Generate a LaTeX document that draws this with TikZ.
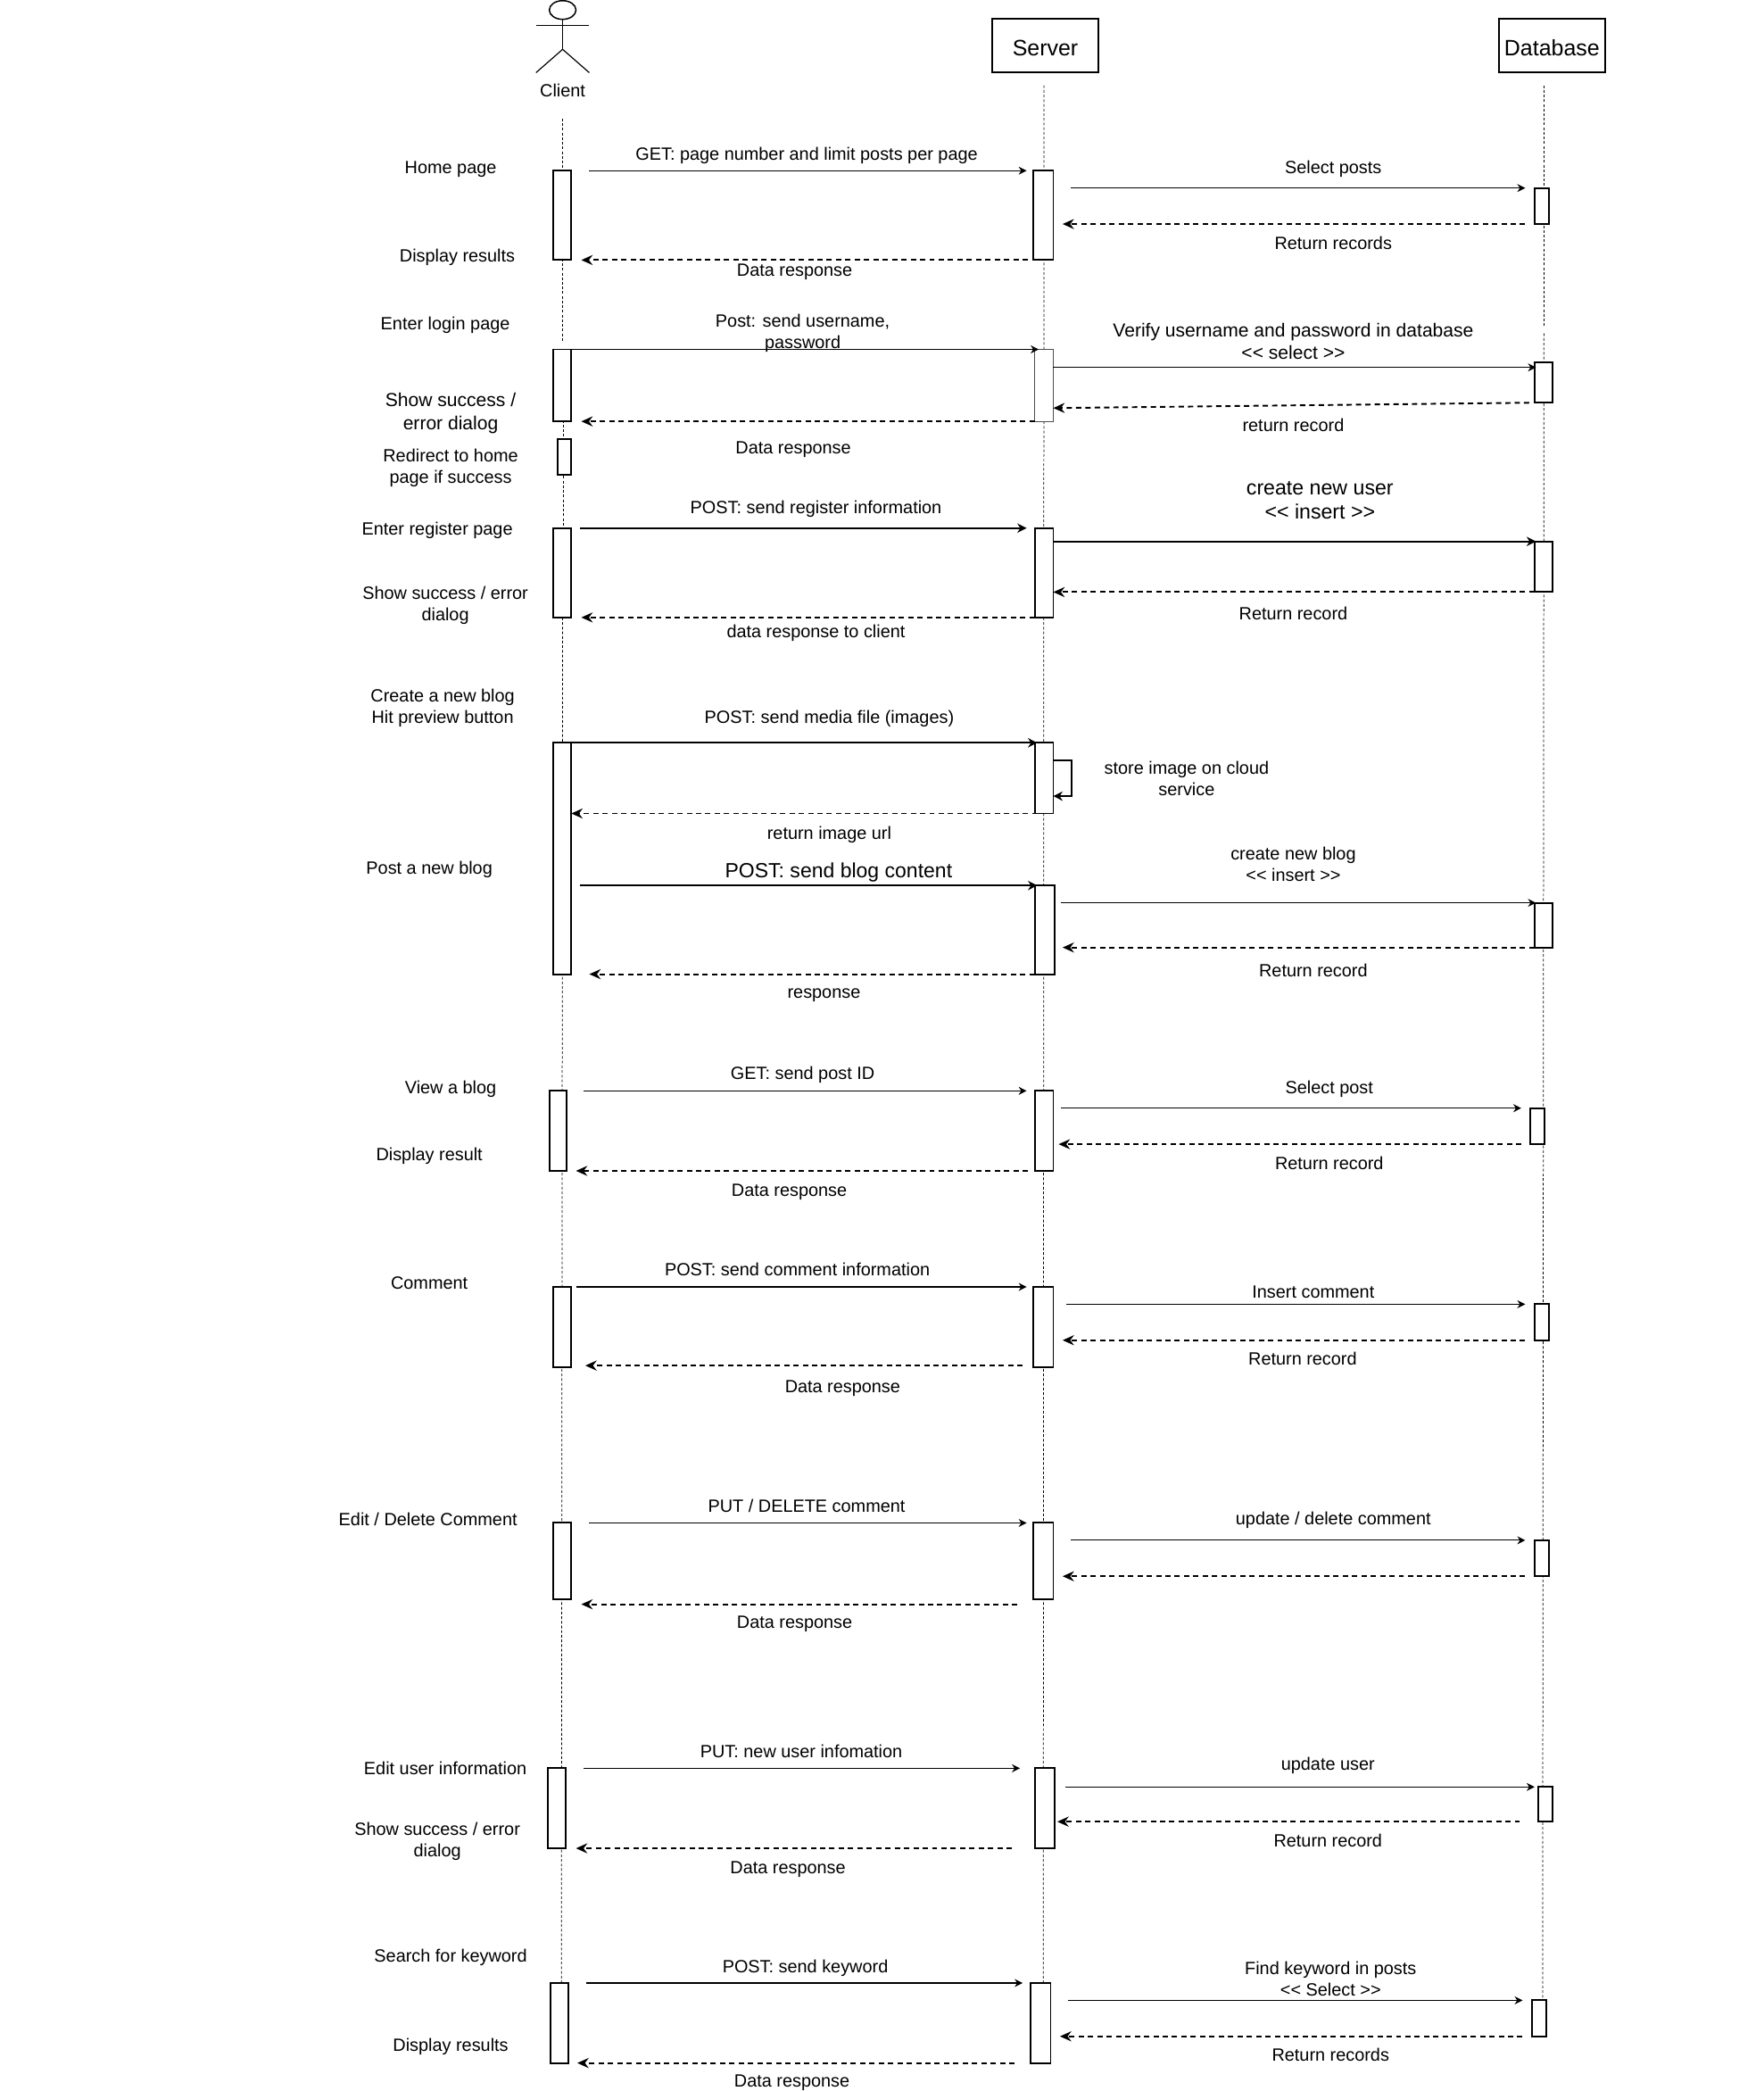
\documentclass[tikz,border=0pt]{standalone}
\usepackage{fontspec}
\setmainfont{Liberation Sans}
\usetikzlibrary{arrows.meta,shapes.geometric}
\begin{document}
\begin{tikzpicture}[x=1pt, y=-1pt,
                      every node/.style = {font=\fontsize{13.3}{16}\selectfont, align=center, inner sep=0pt, outer sep=0pt},
                      actbox/.style = {shape=rectangle, draw, line width=1.3pt, fill=white},
                      header/.style = {shape=rectangle, draw, line width=1.3pt, fill=white, minimum width=80pt, minimum height=40pt, text height=15pt, text depth=0pt, font=\fontsize{16.7}{20}\selectfont},
                      life/.style = {line width=0.5pt, dash pattern=on 2pt off 1.5pt},
                      msg/.style = {line width=0.8pt, -{Stealth[length=6pt,width=6pt]}},
                      msgbold/.style = {line width=1.3pt, -{Stealth[length=7pt,width=7pt]}},
                      ret/.style = {line width=1.3pt, dash pattern=on 4pt off 3pt, -{Stealth[length=8.5pt,width=7.5pt]}}]
\useasboundingbox (0,0) rectangle (1322.4,1568);
% lifelines
\coordinate (clienttop) at (422,89);
\coordinate (clienta) at (422,256);
\coordinate (clientb) at (422.5,315);
\coordinate (clientc) at (422.5,396);
\coordinate (clientd) at (422,463);
\coordinate (clientend) at (421,1547);
\coordinate (servertop) at (783,64);
\coordinate (serverend) at (782.5,1487);
\coordinate (dbtop) at (1158,64);
\coordinate (dba) at (1158,245);
\coordinate (dbb) at (1158,250);
\coordinate (dbend) at (1157,1500);
\draw[life] (clienttop) -- (clienta);
\draw[life] (clientb) -- (clientc);
\draw[life] (clientd) -- (clientend);
\draw[life] (servertop) -- (serverend);
\draw[life] (dbtop) -- (dba);
\draw[life] (dbb) -- (dbend);
% actor and headers
\node[draw, line width=1pt, shape=ellipse, minimum width=20pt, minimum height=14pt] (clienthead) at (422,7.5) {};
\coordinate (clientarml) at (402,19);
\coordinate (clientarmr) at (442,19);
\coordinate (clienthip) at (422,37);
\coordinate (clientfootl) at (402,54.5);
\coordinate (clientfootr) at (442,54.5);
\draw[line width=1.1pt] (clientarml) -- (clientarmr);
\draw[line width=0.8pt] (clienthead) -- (clienthip);
\draw[line width=0.8pt] (clientfootl) -- (clienthip) -- (clientfootr);
\node (clientname) at (422,68) {Client};
\node[header] (server) at (784,34) {Server};
\node[header] (database) at (1164,34) {Database};
% activation boxes
\foreach \name/\xa/\ya/\xb/\yb in {
    c1/415/128/428.5/195, c2/415/262/428.5/316, c3/418/329/428.5/356, c4/415/396/428.5/463,
    c5/415/557/428.5/730.5, c6/412/818/425/878, c7/415/965/428.5/1025, c8/415/1142/428.5/1199,
    c9/411/1326/424.5/1386, c10/413/1487/426.5/1547,
    s1/775/128/790/195, s3/776/396/790/463, s4/776/557/790/610, s5/776/664/791/730.5,
    s6/776/818/790/878, s7/775/965/790/1025, s8/775/1142/790/1199, s9/776/1326/791/1386,
    s10/773/1487/788/1547,
    d1/1151/141/1162/168, d2/1151/272/1164.5/302, d3/1151/406/1164.5/444, d4/1151/677/1164.5/710.5,
    d5/1148/831/1158.5/858, d6/1151/978/1162/1005, d7/1151/1155/1162/1182, d8/1154/1340/1164.5/1366,
    d9/1149/1500/1160/1527}
  \node[actbox, minimum width=\xb pt-\xa pt, minimum height=\yb pt-\ya pt] (\name) at ({(\xa+\xb)/2},{(\ya+\yb)/2}) {};
\node[actbox, line width=0.6pt, draw=black!70, minimum width=14pt, minimum height=54pt] (s2) at (783,289) {};
% home page
\draw[msg] ([xshift=13.5pt]c1.north east) -- ([xshift=-5pt]s1.north west);
\draw[msg] ([xshift=13pt,yshift=-13pt]s1.north east) -- ([xshift=-7pt]d1.north west);
\draw[ret] ([xshift=-7pt]d1.south west) -- ([xshift=7pt,yshift=27pt]s1.south east);
\draw[ret] ([xshift=-4pt]s1.south west) -- ([xshift=7.5pt]c1.south east);
% login
\draw[msg] (c2.north east) -- ([xshift=3pt]s2.north west);
\draw[msg] ([yshift=-13.5pt]s2.north east) -- ([xshift=1pt,yshift=-3.5pt]d2.north west);
\draw[ret] ([xshift=-4pt]d2.south west) -- ([yshift=10pt]s2.south east);
\draw[ret] (s2.south west) -- ([xshift=7.5pt]c2.south east);
% register
\draw[msgbold] ([xshift=6.5pt]c4.north east) -- ([xshift=-6pt]s3.north west);
\draw[msgbold] ([yshift=-10pt]s3.north east) -- ([xshift=1pt]d3.north west);
\draw[ret] (d3.south west) -- ([yshift=19pt]s3.south east);
\draw[ret] (s3.south west) -- ([xshift=7.5pt]c4.south east);
% new blog
\draw[msgbold] (c5.north east) -- ([xshift=2pt]s4.north west);
\draw[msgbold] ([yshift=-13pt]s4.north east) -- ++(13.5,0) -- ++(0,27) -- ([yshift=-40pt]s4.north east);
\draw[ret] ([xshift=2pt]s4.south west) -- ([yshift=-53pt]c5.north east);
\draw[msgbold] ([xshift=6.5pt,yshift=-107pt]c5.north east) -- ([xshift=2pt]s5.north west);
\draw[msg] ([xshift=5pt,yshift=-13pt]s5.north east) -- ([xshift=1pt]d4.north west);
\draw[ret] (d4.south west) -- ([xshift=6pt,yshift=20pt]s5.south east);
\draw[ret] (s5.south west) -- ([xshift=13.5pt]c5.south east);
% view
\draw[msg] ([xshift=13pt]c6.north east) -- ([xshift=-6pt]s6.north west);
\draw[msg] ([xshift=6pt,yshift=-13pt]s6.north east) -- ([xshift=-7pt]d5.north west);
\draw[ret] ([xshift=-7pt]d5.south west) -- ([xshift=4pt,yshift=20pt]s6.south east);
\draw[ret] ([xshift=-5pt]s6.south west) -- ([xshift=7pt]c6.south east);
% comment
\draw[msg] ([xshift=3.5pt]c7.north east) -- ([xshift=-5pt]s7.north west);
\draw[msg] ([xshift=10pt,yshift=-13pt]s7.north east) -- ([xshift=-7pt]d6.north west);
\draw[ret] ([xshift=-7pt]d6.south west) -- ([xshift=7pt,yshift=20pt]s7.south east);
\draw[ret] ([xshift=-8pt,yshift=1pt]s7.south west) -- ([xshift=10.5pt,yshift=1pt]c7.south east);
% edit comment
\draw[msg] ([xshift=13.5pt]c8.north east) -- ([xshift=-5pt]s8.north west);
\draw[msg] ([xshift=13pt,yshift=-13pt]s8.north east) -- ([xshift=-7pt]d7.north west);
\draw[ret] ([xshift=-7pt]d7.south west) -- ([xshift=7pt,yshift=17pt]s8.south east);
\draw[ret] ([xshift=-12pt,yshift=-4pt]s8.south west) -- ([xshift=7.5pt,yshift=-4pt]c8.south east);
% edit user
\draw[msg] ([xshift=13.5pt]c9.north east) -- ([xshift=-11pt]s9.north west);
\draw[msg] ([xshift=8pt,yshift=-14pt]s9.north east) -- ([xshift=-3pt]d8.north west);
\draw[ret] ([xshift=-14pt]d8.south west) -- ([xshift=2pt,yshift=20pt]s9.south east);
\draw[ret] ([xshift=-17pt]s9.south west) -- ([xshift=7.5pt]c9.south east);
% search
\draw[msg] ([xshift=13.5pt]c10.north east) -- ([xshift=-6pt]s10.north west);
\draw[msg] ([xshift=13pt,yshift=-13pt]s10.north east) -- ([xshift=-7pt]d9.north west);
\draw[ret] ([xshift=-7pt]d9.south west) -- ([xshift=7pt,yshift=20pt]s10.south east);
\draw[ret] ([xshift=-12pt]s10.south west) -- ([xshift=6.5pt]c10.south east);
% labels on the left
\node (homepage) at (338,127) {Home page};
\node (displayresults) at (343,193) {Display results};
\node (loginpage) at (334,244) {Enter login page};
\node[font=\fontsize{14.1}{17}\selectfont] (showsuccess) at (338,310) {Show success /\\error dialog};
\node (redirect) at (338,351) {Redirect to home\\page if success};
\node (registerpage) at (328,398) {Enter register page};
\node (showregister) at (334,454) {Show success / error\\dialog};
\node (createblog) at (332,531) {Create a new blog\\Hit preview button};
\node (postblog) at (322,652) {Post a new blog};
\node (viewblog) at (338,817) {View a blog};
\node (displayresult) at (322,867) {Display result};
\node (comment) at (322,962) {Comment};
\node (editcomment) at (321,1139) {Edit / Delete Comment};
\node (edituser) at (334,1326) {Edit user information};
\node (showedit) at (328,1381) {Show success / error\\dialog};
\node (searchkey) at (338,1468) {Search for keyword};
\node (displaysearch) at (338,1535) {Display results};
% message labels
\node (getpage) at (605,117) {GET: page number and limit posts per page};
\node (selectposts) at (1000,127) {Select posts};
\node (returnrecords) at (1000,182) {Return records};
\node (dataresp) at (596,204) {Data response};
\node (postlogin) at (602,250) {Post: send username,\\password};
\node[font=\fontsize{14.1}{17}\selectfont] (verify) at (970,256) {Verify username and password in database\\{<}{<} select {>}{>}};
\node (returnrec) at (970,319) {return record};
\node (dataresplogin) at (595,337) {Data response};
\node (postregister) at (612,382) {POST: send register information};
\node[font=\fontsize{15.5}{18}\selectfont] (createuser) at (990,375) {create new user\\{<}{<} insert {>}{>}};
\node (returnuser) at (970,460) {Return record};
\node (datatoclient) at (612,475) {data response to client};
\node (postmedia) at (622,539) {POST: send media file (images)};
\node (storeimage) at (890,584) {store image on cloud\\service};
\node (imageurl) at (622,626) {return image url};
\node[font=\fontsize{15.4}{18}\selectfont] (postcontent) at (629,654) {POST: send blog content};
\node (createblogdb) at (970,648) {create new blog\\{<}{<} insert {>}{>}};
\node (returnblog) at (985,728) {Return record};
\node (response) at (618,746) {response};
\node (getpost) at (602,806) {GET: send post ID};
\node (selectpost) at (997,817) {Select post};
\node (returnpost) at (997,872) {Return record};
\node (datapost) at (592,894) {Data response};
\node (postcomment) at (598,952) {POST: send comment information};
\node (insertcomment) at (985,969) {Insert comment};
\node (returncomment) at (977,1019) {Return record};
\node (datacomment) at (632,1041) {Data response};
\node (putcomment) at (605,1129) {PUT / DELETE comment};
\node (updatecomment) at (1000,1140) {update / delete comment};
\node (dataedit) at (596,1218) {Data response};
\node (putuser) at (601,1313) {PUT: new user infomation};
\node (updateuser) at (996,1324) {update user};
\node (returnedit) at (996,1380) {Return record};
\node (datauser) at (591,1402) {Data response};
\node (postkeyword) at (604,1476) {POST: send keyword};
\node (findkeyword) at (998,1484) {Find keyword in posts\\{<}{<} Select {>}{>}};
\node (returnfind) at (998,1541) {Return records};
\node (datafind) at (594,1562) {Data response};
\end{tikzpicture}
\end{document}
